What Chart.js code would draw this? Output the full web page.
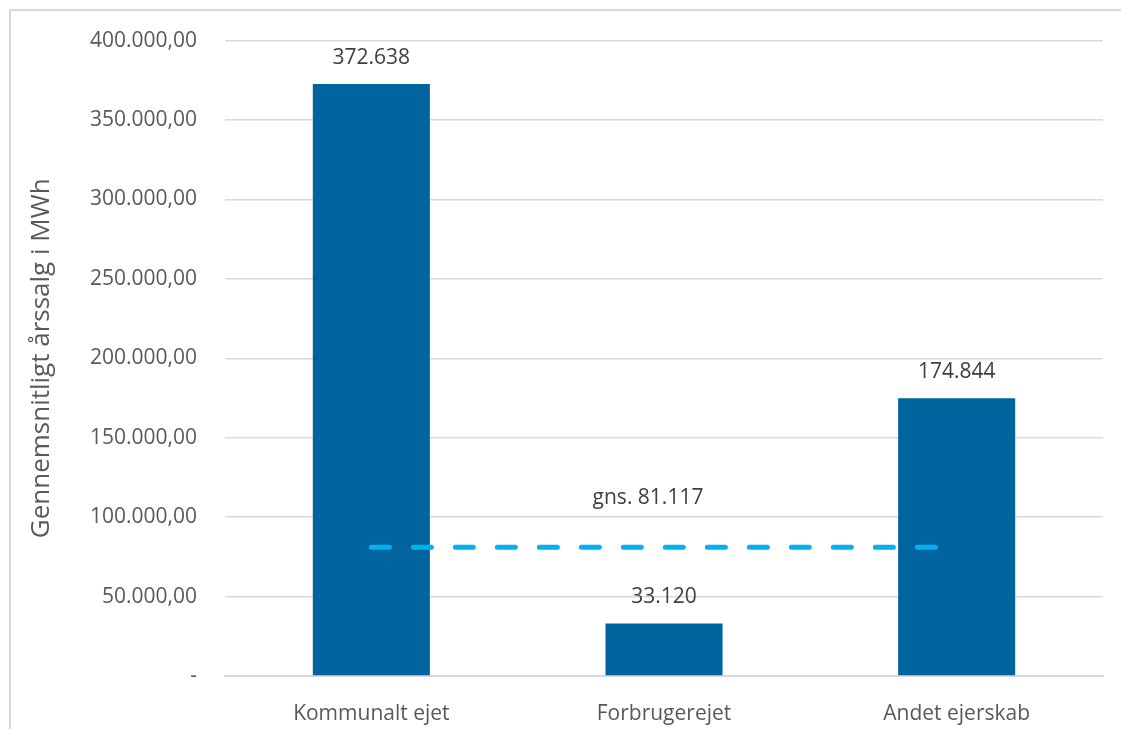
<!DOCTYPE html>
<html>
<head>
<meta charset="UTF-8" />
<script src="https://cdn.jsdelivr.net/npm/chart.js"></script>
<style>
  body, html { margin: 0; padding: 0; background: #ffffff; overflow: hidden; }
  #frame { position: absolute; left: 9px; top: 9px; width: 1300px; height: 900px;
           border-left: 2px solid #d9d9d9; border-top: 2px solid #d9d9d9; }
  #wrap { position: absolute; left: 0; top: 0; width: 1121px; height: 729px; }
</style>
</head>
<body>
<div id="frame"></div>
<div id="wrap"><canvas id="myChart"></canvas></div>
<script>
  const categories = ['Kommunalt ejet', 'Forbrugerejet', 'Andet ejerskab'];
  const salesValues = [372638, 33120, 174844];
  const averageValue = 81117;
  const averageLine = [averageValue, averageValue, averageValue];
  const yTicks = [0, 50000, 100000, 150000, 200000, 250000, 300000, 350000, 400000];

  const FONT = "'Open Sans', sans-serif";

  function thousands(n) {
    return String(Math.round(n)).replace(/\B(?=(\d{3})+(?!\d))/g, '.');
  }
  function tickFmt(v) {
    if (v === 0) return '-';
    return thousands(v) + ',00';
  }

  const labelPlugin = {
    id: 'labels',
    afterDatasetsDraw(chart) {
      const ctx = chart.ctx;
      ctx.save();
      ctx.font = '21px ' + FONT;
      ctx.fillStyle = '#404040';
      ctx.textAlign = 'center';
      ctx.textBaseline = 'middle';
      chart.getDatasetMeta(0).data.forEach((el, i) => {
        ctx.fillText(thousands(salesValues[i]), el.x, el.y - 26);
      });
      const mid = chart.getDatasetMeta(1).data[1];
      ctx.fillText('gns. ' + thousands(averageValue), mid.x - 16, mid.y - 49);
      ctx.restore();
    }
  };

  const ctx = document.getElementById('myChart').getContext('2d');
  new Chart(ctx, {
    type: 'bar',
    data: {
      labels: categories,
      datasets: [{
        type: 'bar',
        data: salesValues,
        backgroundColor: '#00659e',
        categoryPercentage: 1,
        barPercentage: 0.4,
        order: 1
      }, {
        type: 'line',
        data: averageLine,
        borderColor: '#00b0f0',
        borderWidth: 5,
        borderDash: [18, 24],
        borderCapStyle: 'round',
        pointRadius: 0,
        fill: false,
        order: 0
      }]
    },
    options: {
      responsive: true,
      maintainAspectRatio: false,
      animation: false,
      layout: { padding: { top: 28, right: 18, bottom: 0, left: 0 } },
      plugins: { legend: { display: false }, tooltip: { enabled: false } },
      scales: {
        x: {
          grid: { display: false },
          border: { display: true, color: '#d9d9d9', width: 2 },
          ticks: { color: '#595959', font: { family: FONT, size: 21 }, padding: 17 },
          afterFit(scale) { scale.height = 53; }
        },
        y: {
          min: 0,
          max: 400000,
          afterBuildTicks(scale) { scale.ticks = yTicks.map(v => ({ value: v })); },
          grid: { color: '#d9d9d9', lineWidth: 1.5, drawTicks: false },
          border: { display: false },
          ticks: { color: '#595959', font: { family: FONT, size: 21 }, padding: 28, callback: tickFmt },
          title: {
            display: true,
            text: 'Gennemsnitligt årssalg i MWh',
            color: '#595959',
            font: { family: FONT, size: 26 },
            padding: { top: 26, bottom: 0 }
          },
          afterFit(scale) { scale.width = 225; }
        }
      }
    },
    plugins: [labelPlugin]
  });
</script>
</body>
</html>
